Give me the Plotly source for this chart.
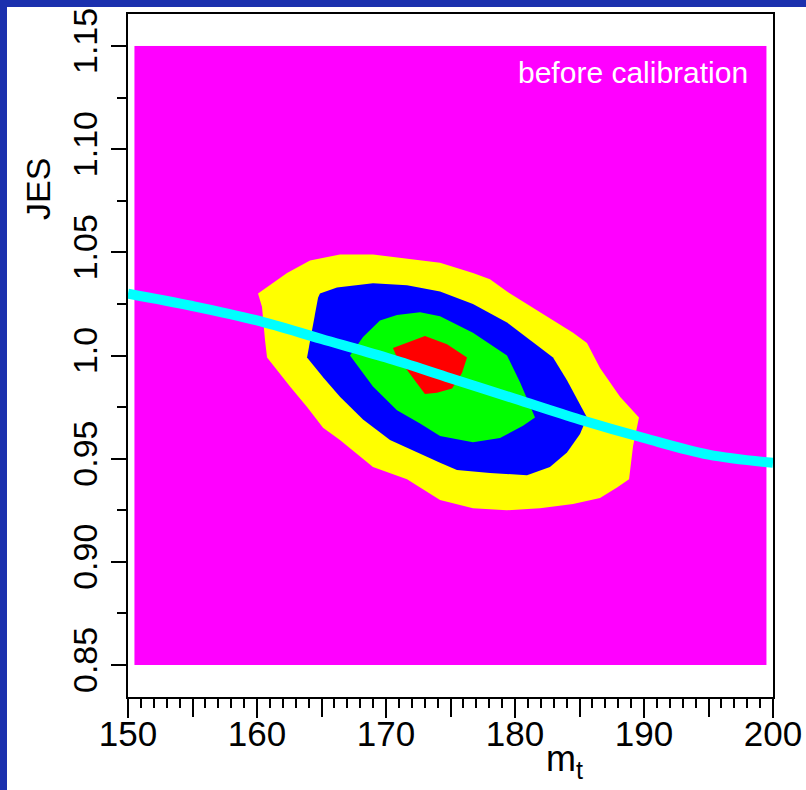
import plotly.graph_objects as go

# ---------------- data ----------------
# histogram (likelihood) area
mt_edges = [150.5, 199.5]
jes_edges = [0.85, 1.15]

# contour levels (outer -> inner)
yellow_mt = [160.08, 161.24, 162.33, 164.11, 166.43, 168.99, 171.63, 174.19, 176.74, 178.06,
             179.38, 181.94, 184.50, 185.58, 186.59, 188.14, 189.61, 189.15, 188.84, 187.91,
             186.59, 184.50, 181.94, 179.38, 176.74, 174.19, 172.64, 171.63, 168.99, 166.43,
             165.12, 163.88, 162.56, 160.78, 160.62, 160.39]
yellow_jes = [1.030, 1.035, 1.040, 1.046, 1.049, 1.049, 1.047, 1.045, 1.040, 1.037,
              1.031, 1.021, 1.011, 1.006, 0.994, 0.980, 0.970, 0.956, 0.940, 0.936,
              0.931, 0.928, 0.926, 0.925, 0.926, 0.930, 0.936, 0.940, 0.946, 0.959,
              0.965, 0.975, 0.985, 0.999, 1.0075, 1.0235]

blue_mt = [164.88, 166.20, 168.99, 171.63, 174.19, 176.74, 179.38, 181.94, 182.95, 184.03,
           185.58, 185.04, 184.03, 182.71, 180.93, 178.06, 175.50, 174.19, 172.09, 170.31,
           168.22, 166.43, 165.12, 163.88, 164.26, 164.73]
blue_jes = [1.030, 1.033, 1.035, 1.034, 1.031, 1.025, 1.016, 1.004, 0.999, 0.988,
            0.970, 0.962, 0.953, 0.946, 0.942, 0.943, 0.9445, 0.948, 0.954, 0.959,
            0.969, 0.980, 0.9895, 0.999, 1.012, 1.028]

green_mt = [167.21, 168.22, 169.53, 170.85, 172.64, 174.19, 176.74, 179.38, 180.39, 181.55,
            180.62, 178.84, 176.74, 174.19, 172.64, 170.85, 168.99, 167.44]
green_jes = [1.000, 1.009, 1.017, 1.0196, 1.021, 1.019, 1.011, 1.000, 0.987, 0.970,
             0.966, 0.960, 0.958, 0.961, 0.967, 0.9735, 0.985, 0.998]

red_mt = [170.54, 171.86, 173.02, 174.73, 176.28, 175.89, 175.12, 173.95, 173.02, 171.63, 170.85]
red_jes = [1.0036, 1.0065, 1.0094, 1.0055, 0.999, 0.9915, 0.984, 0.982, 0.9813, 0.993, 0.999]

# calibration curve
cal_mt = [150, 155, 160, 165, 170, 175, 180, 185, 190, 195, 200]
cal_jes = [1.030, 1.024, 1.017, 1.008, 0.999, 0.989, 0.979, 0.969, 0.960, 0.952, 0.948]

# axis ticks
x_tickvals = [150, 160, 170, 180, 190, 200]
x_ticktext = ["150", "160", "170", "180", "190", "200"]
x_midticks = [155, 165, 175, 185, 195]
y_tickvals = [0.85, 0.90, 0.95, 1.00, 1.05, 1.10, 1.15]
y_ticktext = ["0.85", "0.90", "0.95", "1.0", "1.05", "1.10", "1.15"]

label_text = "before calibration"

# ---------------- figure ----------------
FONT = "Liberation Sans, Arial, sans-serif"
W, H = 806, 790
L, R, T, B = 128, 33, 14, 93
PW, PH = W - L - R, H - T - B


def px(xpix):
    return (xpix - L) / PW


def py(ypix):
    return (H - B - ypix) / PH


fig = go.Figure()

fig.add_trace(go.Heatmap(
    x=mt_edges, y=jes_edges, z=[[1]],
    colorscale=[[0, "#ff00ff"], [1, "#ff00ff"]],
    showscale=False, hoverinfo="skip"))

for xs, ys, col in [(yellow_mt, yellow_jes, "#ffff00"),
                    (blue_mt, blue_jes, "#0000ff"),
                    (green_mt, green_jes, "#00ff00"),
                    (red_mt, red_jes, "#ff0000")]:
    fig.add_trace(go.Scatter(
        x=xs + xs[:1], y=ys + ys[:1], mode="lines", fill="toself",
        fillcolor=col, line=dict(width=0, color=col), hoverinfo="skip"))

fig.add_trace(go.Scatter(
    x=cal_mt, y=cal_jes, mode="lines",
    line=dict(color="#00ffff", width=10, shape="spline", smoothing=1.0),
    hoverinfo="skip"))

# invisible trace to activate the overlay axis carrying the 5-unit ticks
fig.add_trace(go.Scatter(x=[cal_mt[0]], y=[cal_jes[0]], xaxis="x2", mode="markers",
                         marker=dict(opacity=0), hoverinfo="skip"))

fig.update_layout(
    width=W, height=H,
    margin=dict(l=L, r=R, t=T, b=B, autoexpand=False),
    paper_bgcolor="white", plot_bgcolor="white",
    showlegend=False,
    font=dict(family=FONT, color="black"),
    xaxis=dict(range=[150, 200], showgrid=False, zeroline=False, automargin=False,
               showline=True, linecolor="black", linewidth=2, mirror=True,
               ticks="outside", ticklen=19, tickwidth=2, tickcolor="black",
               tickmode="array", tickvals=x_tickvals, ticktext=x_ticktext,
               tickfont=dict(size=35, family=FONT), ticklabelstandoff=-14,
               minor=dict(dtick=1, ticks="outside", ticklen=9, tickwidth=2,
                          tickcolor="black", showgrid=False)),
    xaxis2=dict(range=[150, 200], overlaying="x", side="bottom", anchor="y",
                automargin=False,
                showgrid=False, zeroline=False, showline=False,
                ticks="outside", ticklen=19, tickwidth=2, tickcolor="black",
                tickmode="array", tickvals=x_midticks, showticklabels=False),
    yaxis=dict(range=[0.8345, 1.1655], showgrid=False, zeroline=False, automargin=False,
               showline=True, linecolor="black", linewidth=2, mirror=True,
               ticks="outside", ticklen=15, tickwidth=2, tickcolor="black",
               tickmode="array", tickvals=y_tickvals, ticktext=y_ticktext,
               tickangle=-90, tickfont=dict(size=34, family=FONT),
               minor=dict(dtick=0.025, tick0=0.85, ticks="outside", ticklen=9,
                          tickwidth=2, tickcolor="black", showgrid=False)),
    shapes=[
        dict(type="rect", xref="paper", yref="paper", x0=px(-20), x1=px(W + 20),
             y0=py(7), y1=py(-20), fillcolor="#1b30ae", line=dict(width=0),
             layer="above"),
        dict(type="rect", xref="paper", yref="paper", x0=px(-20), x1=px(7),
             y0=py(H + 20), y1=py(-20), fillcolor="#1b30ae", line=dict(width=0),
             layer="above"),
    ],
    annotations=[
        dict(text=label_text, xref="paper", yref="paper",
             x=px(633), y=py(73), showarrow=False,
             xanchor="center", yanchor="middle",
             font=dict(size=30, color="white", family=FONT)),
        dict(text="JES", xref="paper", yref="paper",
             x=px(38), y=py(189), showarrow=False,
             xanchor="center", yanchor="middle", textangle=-90,
             font=dict(size=34, color="black", family=FONT)),
        dict(text="m<sub>t</sub>", xref="paper", yref="paper",
             x=px(564), y=py(761), showarrow=False,
             xanchor="center", yanchor="middle",
             font=dict(size=36, color="black", family=FONT)),
    ],
)

fig.write_html("out.html",
               config={"displayModeBar": False},
               post_script="document.body.style.margin='0px';"
                           "document.body.style.overflow='hidden';")
